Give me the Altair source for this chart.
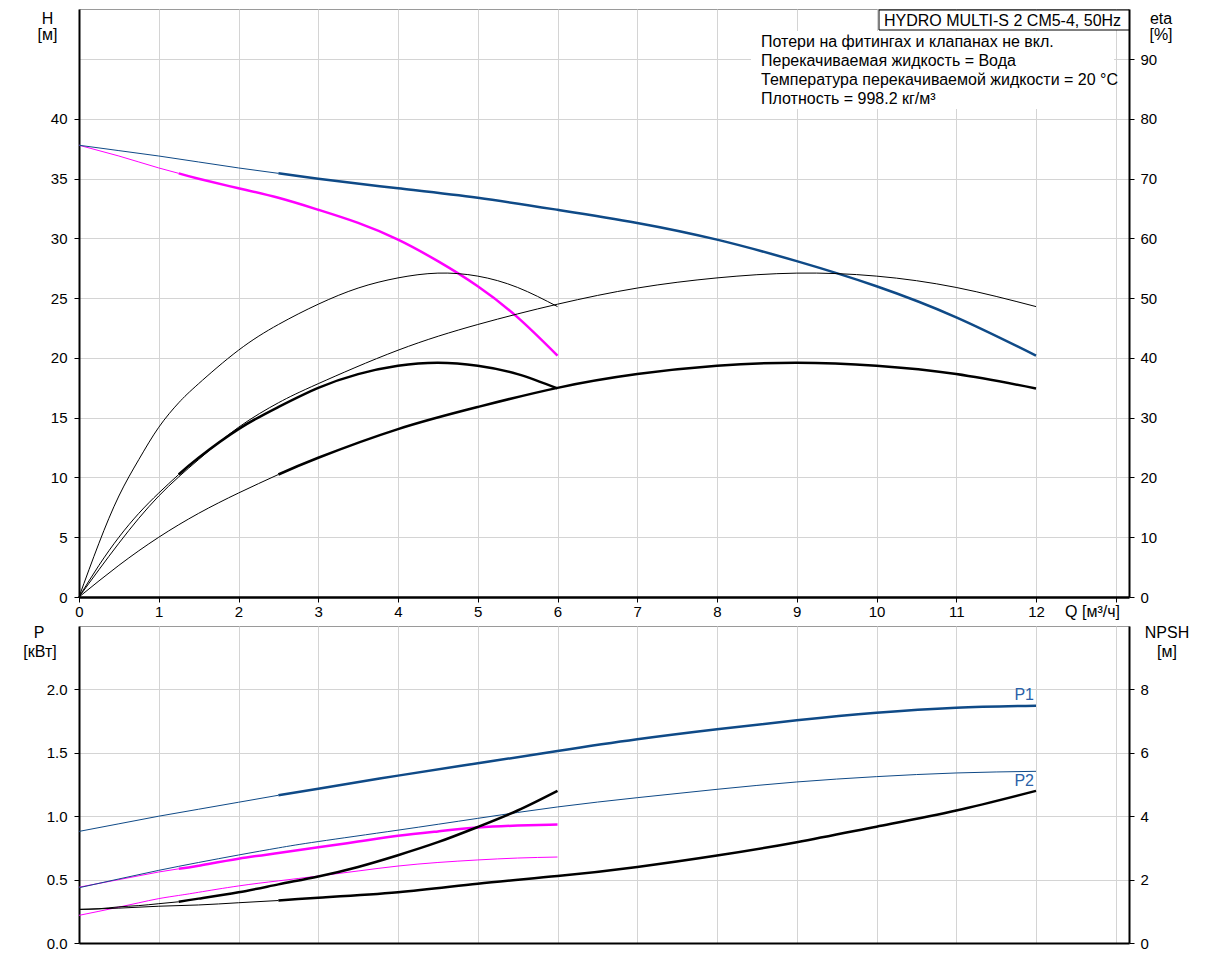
import altair as alt
import pandas as pd

# ---------------- data ----------------
# one pump in operation (Q in m3/h)
q1 = [0, 0.25, 0.5, 0.75, 1, 1.25, 1.5, 2, 2.5, 3, 3.5, 4, 4.5, 5, 5.5, 6]
h1 = [37.8, 37.35, 36.9, 36.4, 35.9, 35.45, 35.0, 34.2, 33.4, 32.4, 31.3, 29.9, 28.1, 26.0, 23.4, 20.2]
eta_pump1 = [0, 9.0, 16.9, 23.0, 28.4, 32.5, 35.7, 41.3, 45.6, 49.0, 51.7, 53.4, 54.2, 53.7, 51.8, 48.6]
eta_tot1 = [0, 5.3, 10.0, 14.0, 17.4, 20.5, 23.3, 28.1, 31.8, 35.0, 37.3, 38.7, 39.2, 38.7, 37.3, 34.9]
p1_1 = [0.44, 0.47, 0.50, 0.53, 0.56, 0.585, 0.61, 0.665, 0.71, 0.755, 0.80, 0.845, 0.88, 0.91, 0.926, 0.935]
p2_1 = [0.218, 0.25, 0.283, 0.317, 0.35, 0.375, 0.40, 0.45, 0.49, 0.528, 0.568, 0.607, 0.635, 0.655, 0.67, 0.678]
npsh1 = [1.06, 1.08, 1.14, 1.18, 1.24, 1.30, 1.40, 1.60, 1.85, 2.10, 2.40, 2.77, 3.18, 3.66, 4.18, 4.80]

# two pumps in operation
q2 = [0, 0.5, 1, 1.5, 2, 2.5, 3, 4, 5, 6, 7, 8, 9, 10, 11, 12]
h2 = [37.8, 37.35, 36.9, 36.4, 35.9, 35.45, 35.0, 34.2, 33.4, 32.4, 31.3, 29.9, 28.1, 26.0, 23.4, 20.2]
eta_pump2 = [0, 9.0, 16.9, 23.0, 28.4, 32.5, 35.7, 41.3, 45.6, 49.0, 51.7, 53.4, 54.2, 53.7, 51.8, 48.6]
eta_tot2 = [0, 5.3, 10.0, 14.0, 17.4, 20.5, 23.3, 28.1, 31.8, 35.0, 37.3, 38.7, 39.2, 38.7, 37.3, 34.9]
p1_2 = [0.88, 0.94, 1.0, 1.055, 1.11, 1.165, 1.217, 1.32, 1.417, 1.514, 1.606, 1.685, 1.756, 1.816, 1.856, 1.872]
p2_2 = [0.436, 0.505, 0.573, 0.635, 0.694, 0.75, 0.80, 0.89, 0.983, 1.073, 1.146, 1.212, 1.27, 1.312, 1.341, 1.354]
npsh2 = [1.06, 1.10, 1.16, 1.20, 1.27, 1.34, 1.43, 1.60, 1.87, 2.11, 2.40, 2.76, 3.18, 3.67, 4.18, 4.80]

x_ticks = list(range(0, 14))
h_ticks = [0, 5, 10, 15, 20, 25, 30, 35, 40]
eta_ticks = [0, 10, 20, 30, 40, 50, 60, 70, 80, 90]
p_ticks = [0.0, 0.5, 1.0, 1.5, 2.0]
npsh_ticks = [0, 2, 4, 6, 8]

title_text = "HYDRO MULTI-S 2 CM5-4, 50Hz"
info_lines = [
    "Потери на фитингах и клапанах не вкл.",
    "Перекачиваемая жидкость = Вода",
    "Температура перекачиваемой жидкости = 20 °C",
    "Плотность = 998.2 кг/м³",
]

# ---------------- styling ----------------
FONT = "Liberation Sans"
BLUE = "#0f4a87"
MAG = "#ff00ff"
BLACK = "#000000"
GRID = "#d4d4d4"
THIN = 1.0
THICK = 2.5
W = 1050
H_TOP = 588
H_BOT = 317
INTERP = "natural"

x_dom = alt.Scale(domain=[0, 13.166], nice=False, zero=False)

X_TOP = alt.X("q:Q", scale=x_dom, axis=alt.Axis(
    values=x_ticks, labelExpr="datum.value > 12 ? '' : datum.label",
    grid=True, gridColor=GRID, tickSize=5, tickColor="black", domainColor="black",
    domainWidth=2.5, labelPadding=2, title=None, labelFont=FONT, labelFontSize=15,
    labelColor="black", labelFlush=False))
X_BOT = alt.X("q:Q", scale=x_dom, axis=alt.Axis(
    values=x_ticks, labels=False, ticks=False, grid=True, gridColor=GRID,
    domainColor="black", domainWidth=2, title=None))


def yaxis(values, orient, grid, fmt=None):
    kw = dict(values=values, orient=orient, grid=grid, gridColor=GRID, tickSize=5,
              tickColor="black", domainColor="black", domainWidth=2,
              labelPadding=7 if orient == "left" else 6, title=None,
              labelFont=FONT, labelFontSize=15, labelColor="black", labelFlush=False)
    if fmt:
        kw["format"] = fmt
    return alt.Axis(**kw)


Y_H = alt.Y("v:Q", scale=alt.Scale(domain=[0, 49.2], nice=False), axis=yaxis(h_ticks, "left", False))
Y_ETA = alt.Y("v:Q", scale=alt.Scale(domain=[0, 98.4], nice=False), axis=yaxis(eta_ticks, "right", True))
Y_P = alt.Y("v:Q", scale=alt.Scale(domain=[0, 2.5], nice=False), axis=yaxis(p_ticks, "left", True, ".1f"))
Y_N = alt.Y("v:Q", scale=alt.Scale(domain=[0, 10], nice=False), axis=yaxis(npsh_ticks, "right", False))


def curve(q, v, color, width, xenc, yenc, lo=None, hi=None):
    df = pd.DataFrame({"q": q, "v": v})
    if lo is not None:
        df = df[df.q >= lo]
    if hi is not None:
        df = df[df.q <= hi]
    return alt.Chart(df).mark_line(color=color, strokeWidth=width, interpolate=INTERP).encode(
        x=xenc, y=yenc)


one = pd.DataFrame({"a": [0]})


def text(t, x, y, align="center", size=16, color="black", baseline="middle"):
    return alt.Chart(one).mark_text(text=t, align=align, baseline=baseline, font=FONT,
                                    fontSize=size, color=color).encode(
        x=alt.value(x), y=alt.value(y))


def anchor():
    return alt.Chart(one).mark_rule(opacity=0, strokeWidth=1).encode(
        x=alt.value(-70), y=alt.value(50), y2=alt.value(60))


# ---------------- top panel ----------------
h_layer = alt.layer(
    curve(q1, h1, MAG, THIN, X_TOP, Y_H, hi=1.25),
    curve(q1, h1, MAG, THICK, X_TOP, Y_H, lo=1.25),
    curve(q2, h2, BLUE, THIN, X_TOP, Y_H, hi=2.5),
    curve(q2, h2, BLUE, THICK, X_TOP, Y_H, lo=2.5),
)
eta_layer = alt.layer(
    curve(q1, eta_pump1, BLACK, THIN, X_TOP, Y_ETA),
    curve(q2, eta_pump2, BLACK, THIN, X_TOP, Y_ETA),
    curve(q1, eta_tot1, BLACK, THIN, X_TOP, Y_ETA, hi=1.25),
    curve(q1, eta_tot1, BLACK, THICK, X_TOP, Y_ETA, lo=1.25),
    curve(q2, eta_tot2, BLACK, THIN, X_TOP, Y_ETA, hi=2.5),
    curve(q2, eta_tot2, BLACK, THICK, X_TOP, Y_ETA, lo=2.5),
)

info_bg = alt.Chart(one).mark_rect(color="white").encode(
    x=alt.value(672), x2=alt.value(1035), y=alt.value(22), y2=alt.value(100))
title_box = alt.Chart(one).mark_rect(fill="white", stroke="black", strokeWidth=1).encode(
    x=alt.value(800), x2=alt.value(1050), y=alt.value(1), y2=alt.value(21))

top_annots = [
    info_bg, title_box,
    text(title_text, 805, 11.5, align="left"),
    text(info_lines[0], 682, 33, align="left"),
    text(info_lines[1], 682, 52, align="left"),
    text(info_lines[2], 682, 71, align="left"),
    text(info_lines[3], 682, 90, align="left"),
    text("H", -31.5, 10),
    text("[м]", -31.5, 26),
    text("eta", 1082, 10),
    text("[%]", 1082, 26),
    text("Q [м³/ч]", 1041, 603, align="right"),
    anchor(),
]

top = alt.layer(h_layer, eta_layer, *top_annots).resolve_scale(y="independent").properties(
    width=W, height=H_TOP)

# ---------------- bottom panel ----------------
p_layer = alt.layer(
    curve(q1, p2_1, MAG, THIN, X_BOT, Y_P),
    curve(q1, p1_1, MAG, THIN, X_BOT, Y_P, hi=1.25),
    curve(q1, p1_1, MAG, THICK, X_BOT, Y_P, lo=1.25),
    curve(q2, p2_2, BLUE, THIN, X_BOT, Y_P),
    curve(q2, p1_2, BLUE, THIN, X_BOT, Y_P, hi=2.5),
    curve(q2, p1_2, BLUE, THICK, X_BOT, Y_P, lo=2.5),
)
n_layer = alt.layer(
    curve(q1, npsh1, BLACK, THIN, X_BOT, Y_N, hi=1.25),
    curve(q1, npsh1, BLACK, THICK, X_BOT, Y_N, lo=1.25),
    curve(q2, npsh2, BLACK, THIN, X_BOT, Y_N, hi=2.5),
    curve(q2, npsh2, BLACK, THICK, X_BOT, Y_N, lo=2.5),
)
bot_annots = [
    text("P", -40, 7),
    text("[кВт]", -39, 26),
    text("NPSH", 1088, 7),
    text("[м]", 1088, 26),
    text("P1", 955, 69, align="right", color="#2a62a8"),
    text("P2", 955, 155, align="right", color="#2a62a8"),
    anchor(),
]
bottom = alt.layer(p_layer, n_layer, *bot_annots).resolve_scale(y="independent").properties(
    width=W, height=H_BOT)

chart = alt.vconcat(top, bottom, spacing=29, bounds="flush").properties(
    padding={"left": 0, "top": 0, "right": 5, "bottom": 5},
    background="white",
).configure_view(stroke="#9a9a9a", strokeWidth=1)

chart.save("out.html", embed_options={"renderer": "svg", "actions": False})
